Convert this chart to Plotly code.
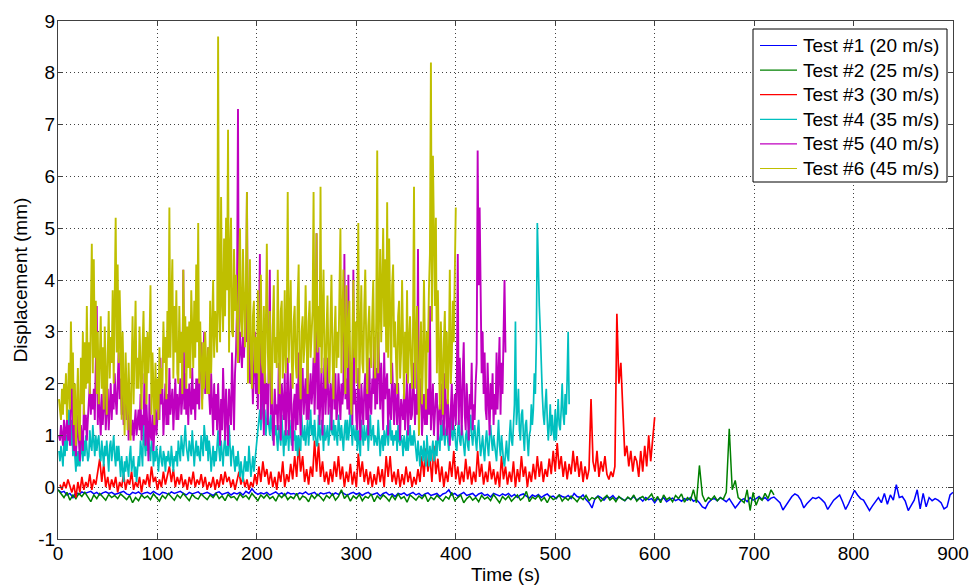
import numpy as np
import plotly.graph_objects as go

# ---------------- data ----------------
series_names = ["Test #1 (20 m/s)", "Test #2 (25 m/s)", "Test #3 (30 m/s)",
                "Test #4 (35 m/s)", "Test #5 (40 m/s)", "Test #6 (45 m/s)"]
series_colors = ["#0000ff", "#008000", "#ff0000", "#00bfbf", "#bf00bf", "#bfbf00"]

# Test #1: t = 0..900 s, every 3 s
test1_start, test1_step = 0, 3
test1 = [
    -0.05, -0.1, -0.08, -0.15, -0.12, -0.2, -0.1, -0.14, -0.09, -0.12,
    -0.1, -0.08, -0.13, -0.1, -0.15, -0.11, -0.09, -0.12, -0.1, -0.14,
    -0.12, -0.1, -0.08, -0.13, -0.15, -0.1, -0.12, -0.09, -0.14, -0.11,
    -0.1, -0.13, -0.08, -0.12, -0.15, -0.1, -0.11, -0.14, -0.09, -0.12,
    -0.1, -0.08, -0.12, -0.15, -0.1, -0.13, -0.11, -0.09, -0.14, -0.12,
    -0.1, -0.13, -0.16, -0.11, -0.09, -0.14, -0.12, -0.1, -0.15, -0.11,
    -0.13, -0.1, -0.15, -0.08, -0.12, -0.03, -0.1, -0.14, -0.11, -0.13,
    -0.1, -0.15, -0.12, -0.09, -0.14, -0.11, -0.16, -0.1, -0.13, -0.12,
    -0.15, -0.11, -0.13, -0.09, -0.14, -0.12, -0.1, -0.16, -0.11, -0.13,
    -0.12, -0.1, -0.15, -0.11, -0.14, -0.09, -0.13, -0.16, -0.12, -0.1,
    -0.14, -0.11, -0.16, -0.12, -0.1, -0.15, -0.13, -0.11, -0.17, -0.12,
    -0.1, -0.15, -0.13, -0.18, -0.12, -0.14, -0.11, -0.16, -0.13, -0.1,
    -0.15, -0.12, -0.17, -0.13, -0.11, -0.16, -0.14, -0.12, -0.18, -0.13,
    -0.11, -0.05, -0.15, -0.12, -0.17, -0.13, -0.1, -0.16, -0.14, -0.12,
    -0.18, -0.13, -0.11, -0.16, -0.14, -0.19, -0.12, -0.15, -0.17, -0.13,
    -0.16, -0.12, -0.18, -0.14, -0.2, -0.15, -0.13, -0.17, -0.21, -0.15,
    -0.18, -0.14, -0.2, -0.16, -0.13, -0.19, -0.17, -0.22, -0.15, -0.18,
    -0.2, -0.16, -0.22, -0.12, -0.18, -0.2, -0.15, -0.24, -0.3, -0.4,
    -0.22, -0.17, -0.2, -0.25, -0.18, -0.21, -0.16, -0.23, -0.19, -0.22,
    -0.26, -0.2, -0.23, -0.18, -0.25, -0.21, -0.27, -0.2, -0.24, -0.22,
    -0.3, -0.22, -0.25, -0.2, -0.28, -0.24, -0.21, -0.26, -0.23, -0.27,
    -0.22, -0.25, -0.2, -0.27, -0.24, -0.3, -0.38, -0.41, -0.3, -0.24,
    -0.22, -0.26, -0.2, -0.24, -0.28, -0.22, -0.3, -0.4, -0.33, -0.25,
    -0.22, -0.28, -0.2, -0.25, -0.22, -0.18, -0.24, -0.2, -0.26, -0.21,
    -0.19, -0.25, -0.3, -0.44, -0.35, -0.25, -0.18, -0.13, -0.16, -0.25,
    -0.4, -0.32, -0.26, -0.2, -0.22, -0.19, -0.24, -0.3, -0.43, -0.35,
    -0.25, -0.2, -0.15, -0.28, -0.43, -0.32, -0.2, -0.06, -0.15, -0.22,
    -0.25, -0.35, -0.45, -0.36, -0.28, -0.2, -0.3, -0.12, -0.33, -0.15,
    -0.25, 0.05, -0.2, -0.18, -0.27, -0.45, -0.35, -0.25, -0.05, -0.42,
    -0.12, -0.38, -0.2, -0.26, -0.22, -0.25, -0.3, -0.42, -0.38, -0.15,
    -0.1,
]

# Test #2: t = 0..720 s, every 3 s
test2_start, test2_step = 0, 3
test2 = [
    -0.05, -0.12, -0.2, -0.1, -0.25, -0.15, -0.22, -0.12, -0.18, -0.1,
    -0.2, -0.28, -0.15, -0.22, -0.12, -0.18, -0.25, -0.14, -0.2, -0.16,
    -0.22, -0.13, -0.19, -0.24, -0.16, -0.3, -0.2, -0.26, -0.15, -0.21,
    -0.17, -0.24, -0.13, -0.2, -0.27, -0.16, -0.22, -0.12, -0.19, -0.25,
    -0.15, -0.21, -0.12, -0.18, -0.26, -0.14, -0.2, -0.23, -0.13, -0.19,
    -0.24, -0.15, -0.2, -0.12, -0.22, -0.17, -0.26, -0.14, -0.2, -0.18,
    -0.25, -0.13, -0.2, -0.16, -0.23, -0.12, -0.19, -0.26, -0.15, -0.21,
    -0.14, -0.22, -0.18, -0.27, -0.15, -0.2, -0.13, -0.24, -0.18, -0.22,
    -0.12, -0.25, -0.17, -0.2, -0.28, -0.15, -0.22, -0.14, -0.19, -0.26,
    -0.16, -0.21, -0.13, -0.25, -0.18, -0.05, -0.22, -0.15, -0.27, -0.17,
    -0.22, -0.14, -0.26, -0.18, -0.21, -0.13, -0.28, -0.17, -0.23, -0.15,
    -0.2, -0.27, -0.16, -0.24, -0.13, -0.22, -0.18, -0.29, -0.15, -0.21,
    -0.25, -0.17, -0.22, -0.14, -0.28, -0.19, -0.24, -0.16, -0.21, -0.27,
    -0.18, -0.23, -0.1, -0.26, -0.2, -0.15, -0.3, -0.22, -0.17, -0.25,
    -0.2, -0.28, -0.16, -0.23, -0.19, -0.26, -0.14, -0.22, -0.3, -0.18,
    -0.24, -0.17, -0.27, -0.21, -0.15, -0.25, -0.2, -0.08, -0.28, -0.19,
    -0.23, -0.16, -0.26, -0.2, -0.3, -0.18, -0.24, -0.21, -0.15, -0.27,
    -0.2, -0.25, -0.17, -0.22, -0.28, -0.19, -0.24, -0.16, -0.26, -0.2,
    -0.23, -0.18, -0.27, -0.21, -0.16, -0.25, -0.2, -0.28, -0.18, -0.23,
    -0.26, -0.19, -0.24, -0.15, -0.27, -0.21, -0.18, -0.25, -0.2, -0.13,
    -0.27, -0.18, -0.3, -0.15, -0.24, -0.2, -0.28, -0.16, -0.22, -0.13,
    -0.29, -0.2, -0.25, -0.05, -0.3, 0.42, -0.15, -0.28, -0.2, -0.24,
    -0.17, -0.26, -0.2, -0.23, -0.1, 1.13, -0.05, 0.13, -0.2, -0.25,
    -0.3, -0.05, -0.45, -0.1, -0.35, -0.2, -0.25, -0.12, -0.22, -0.05,
    -0.15,
]

# Test #3: t = 2..600 s, every 2 s
test3_start, test3_step = 2, 2
test3 = [
    0.05, -0.05, 0.1, -0.02, 0.15, 0.0, -0.1, 0.05, -0.2, 0.1,
    -0.1, 0.2, -0.05, 0.1, 0.0, 0.25, -0.05, 0.15, 0.05, 0.3,
    0.55, 0.1, 0.45, 0.0, 0.2, -0.05, 0.15, 0.0, 0.2, -0.1,
    0.1, 0.0, 0.25, -0.05, 0.15, 0.05, 0.3, -0.05, 0.1, 0.0,
    0.2, -0.1, 0.15, 0.05, 0.25, 0.0, 0.4, 0.1, 0.2, -0.05,
    0.15, 0.0, 0.3, 0.05, 0.2, 0.4, 0.1, 0.35, 0.0, 0.2,
    0.05, 0.25, 0.0, 0.15, -0.05, 0.2, 0.05, 0.3, 0.0, 0.15,
    0.05, 0.25, 0.0, 0.2, -0.05, 0.1, 0.0, 0.2, -0.05, 0.15,
    0.0, 0.25, 0.05, 0.3, 0.1, 0.2, 0.0, 0.15, -0.05, 0.1,
    0.3, 0.05, 0.2, 0.0, 0.15, -0.05, 0.1, 0.0, 0.25, 0.05,
    0.4, 0.1, 0.5, 0.2, 0.35, 0.05, 0.3, 0.0, 0.2, -0.05,
    0.3, 0.1, 0.5, 0.0, 0.25, 0.1, 0.45, 0.15, 0.6, 0.2,
    0.85, 0.3, 0.6, 0.1, 0.35, 0.05, 0.4, 0.2, 0.9, 0.3,
    0.85, 0.2, 0.5, 0.1, 0.3, 0.05, 0.35, 0.1, 0.5, 0.2,
    0.6, 0.15, 0.4, 0.0, 0.3, 0.1, 0.45, 0.05, 0.3, 0.0,
    0.65, 0.2, 0.5, 0.1, 0.35, 0.05, 0.3, 0.0, 0.25, 0.05,
    0.4, 0.1, 0.35, 0.0, 0.6, 0.2, 0.6, 0.1, 0.3, 0.05,
    0.35, 0.0, 0.25, 0.05, 0.4, 0.1, 0.3, 0.0, 0.2, 0.05,
    0.35, 0.1, 0.6, 0.2, 0.75, 0.3, 0.6, 0.1, 0.8, 0.25,
    0.55, 0.1, 0.4, 0.0, 0.3, 0.1, 0.5, 0.2, 0.7, 0.15,
    0.4, 0.05, 0.3, 0.1, 0.55, 0.15, 0.4, 0.05, 0.3, 0.1,
    0.7, 0.2, 0.45, 0.05, 0.3, 0.1, 0.5, 0.15, 0.35, 0.05,
    0.3, 0.0, 0.6, 0.15, 0.4, 0.05, 0.3, 0.1, 0.5, 0.0,
    0.35, 0.1, 0.6, 0.2, 0.4, 0.0, 0.3, 0.1, 0.45, 0.15,
    0.6, 0.2, 0.5, 0.1, 0.35, 0.2, 0.55, 0.25, 0.7, 0.3,
    0.85, 0.35, 0.6, 0.2, 0.5, 0.15, 0.45, 0.25, 0.7, 0.3,
    0.6, 0.2, 0.5, 0.1, 0.4, 0.15, 0.35, 1.7, 0.5, 0.3,
    0.7, 0.2, 0.5, 0.3, 0.6, 0.25, 0.15, 0.3, 0.2, 0.4,
    3.35, 2.0, 2.4, 1.5, 0.6, 0.8, 0.4, 0.7, 0.3, 0.6,
    0.5, 0.2, 0.7, 0.3, 0.8, 0.4, 1.0, 0.5, 0.9, 1.35,
]

# Test #4: t = 1..514 s, every 1 s
test4_start, test4_step = 1, 1
test4 = [
    0.7, 0.5, 0.8, 0.6, 0.4, 0.9, 0.6, 1.0, 0.7, 1.2,
    1.5, 1.1, 0.8, 1.3, 0.6, 0.9, 0.5, 0.3, 0.7, 0.4,
    0.7, 0.4, 0.9, 0.6, 0.5, 0.9, 0.6, 1.0, 0.7, 0.5,
    0.6, 1.1, 0.8, 0.7, 1.2, 0.8, 0.6, 1.0, 0.7, 0.9,
    1.0, 0.6, 0.5, 0.9, 0.7, 0.4, 0.8, 0.6, 0.9, 0.5,
    0.3, 0.8, 0.9, 0.5, 0.7, 1.0, 0.6, 0.4, 0.8, 0.5,
    0.8, 0.5, 0.2, 0.6, 0.4, 0.1, 0.5, 0.3, 0.6, 0.4,
    0.2, 0.6, 0.8, 0.3, 0.5, 0.6, 0.2, 0.4, 0.1, 0.5,
    0.6, 0.4, 0.9, 0.7, 0.4, 1.2, 0.8, 0.6, 1.0, 0.7,
    1.0, 0.7, 0.5, 0.9, 0.8, 0.4, 0.7, 0.5, 0.8, 0.6,
    0.3, 0.6, 0.8, 0.5, 0.4, 0.7, 0.6, 0.3, 0.6, 0.5,
    0.7, 0.5, 0.4, 0.8, 0.6, 0.3, 0.6, 0.5, 0.7, 0.4,
    0.9, 0.6, 0.5, 1.0, 0.7, 0.6, 0.9, 1.2, 0.8, 0.6,
    0.5, 0.9, 0.7, 0.6, 1.1, 0.8, 0.4, 0.7, 0.9, 0.6,
    0.8, 0.6, 0.5, 1.0, 0.7, 0.6, 1.2, 0.8, 0.7, 1.0,
    0.5, 0.9, 0.7, 0.3, 0.6, 0.8, 0.4, 0.7, 0.5, 0.9,
    1.1, 0.7, 0.5, 0.9, 0.6, 0.4, 0.8, 1.0, 0.6, 0.8,
    0.6, 1.2, 0.8, 0.4, 0.7, 0.8, 0.5, 0.3, 0.6, 0.4,
    0.7, 0.4, 0.2, 0.5, 0.3, 0.1, 0.4, 0.6, 0.3, 0.5,
    0.3, 0.8, 0.5, 0.2, 0.4, 0.6, 0.3, 0.5, 0.7, 0.9,
    1.0, 1.3, 1.5, 1.1, 1.4, 1.8, 1.2, 1.5, 1.0, 1.3,
    1.6, 1.2, 1.0, 1.4, 1.1, 0.9, 1.3, 1.0, 1.2, 0.9,
    0.7, 1.2, 1.0, 0.8, 1.4, 0.9, 0.6, 1.1, 0.8, 1.0,
    1.1, 0.7, 1.3, 1.0, 0.8, 1.2, 0.9, 1.1, 0.7, 1.0,
    0.6, 1.0, 0.8, 0.7, 1.4, 1.0, 0.9, 1.2, 0.8, 1.1,
    1.3, 0.8, 1.1, 1.5, 1.0, 1.2, 0.9, 1.3, 1.0, 0.8,
    0.8, 1.4, 1.0, 0.9, 1.3, 1.1, 0.7, 1.2, 0.9, 1.0,
    1.2, 0.8, 1.0, 1.5, 1.1, 1.0, 1.3, 0.9, 1.2, 1.0,
    0.8, 1.4, 1.1, 0.9, 1.2, 1.0, 0.7, 1.1, 1.3, 0.9,
    1.3, 0.9, 1.1, 1.5, 1.0, 0.8, 1.2, 1.0, 0.9, 1.2,
    0.7, 1.1, 0.9, 0.6, 1.3, 1.0, 0.8, 1.2, 0.9, 1.0,
    1.2, 0.7, 1.0, 1.4, 0.9, 1.1, 1.2, 0.8, 1.0, 0.9,
    0.8, 1.3, 1.0, 0.6, 0.9, 1.0, 0.7, 1.1, 0.8, 1.0,
    1.2, 0.8, 1.0, 1.3, 0.9, 1.1, 0.8, 1.0, 0.9, 1.1,
    0.7, 1.2, 0.9, 0.8, 1.0, 0.9, 0.6, 1.0, 0.8, 0.7,
    1.1, 0.7, 0.9, 1.2, 0.8, 1.0, 0.8, 1.1, 0.9, 0.7,
    0.5, 0.9, 0.6, 0.4, 0.8, 0.7, 0.5, 0.9, 0.6, 0.4,
    1.0, 0.6, 0.4, 0.8, 0.5, 0.7, 0.9, 0.5, 0.6, 0.9,
    0.6, 1.1, 0.8, 0.7, 1.2, 0.9, 1.3, 1.0, 0.8, 1.1,
    1.2, 0.9, 0.7, 1.1, 1.4, 1.0, 0.9, 1.2, 1.1, 0.8,
    0.7, 1.1, 1.3, 0.9, 0.8, 1.2, 1.0, 0.7, 0.6, 1.0,
    1.1, 0.8, 0.7, 1.2, 1.4, 1.0, 0.8, 1.1, 1.2, 0.9,
    0.7, 1.1, 1.3, 0.9, 0.6, 0.8, 1.0, 0.7, 0.5, 0.9,
    1.1, 0.8, 0.6, 1.0, 1.2, 0.9, 0.7, 1.0, 0.8, 0.6,
    0.5, 0.9, 1.3, 0.8, 0.6, 1.0, 0.7, 0.5, 0.4, 0.8,
    0.9, 0.6, 0.5, 1.0, 1.3, 0.9, 0.8, 1.2, 1.6, 3.2,
    1.2, 1.5, 1.9, 1.1, 0.9, 1.4, 1.5, 1.0, 0.7, 1.2,
    1.3, 0.9, 0.6, 1.0, 1.1, 1.6, 1.2, 1.5, 2.2, 1.8,
    2.8, 5.1, 3.9, 3.5, 3.0, 2.2, 1.8, 1.4, 1.2, 1.6,
    1.9, 1.3, 0.9, 1.2, 1.6, 1.0, 1.4, 1.1, 0.9, 1.5,
    0.9, 1.3, 1.7, 1.2, 1.1, 1.5, 2.0, 1.4, 1.2, 1.8,
    1.4, 2.1, 3.0, 1.6,
]

# Test #5: t = 1..450 s, every 1 s
test5_start, test5_step = 1, 1
test5 = [
    1.0, 0.9, 1.2, 1.0, 0.8, 1.3, 0.9, 1.1, 1.3, 0.9,
    1.2, 0.8, 1.5, 2.4, 1.1, 0.7, 1.3, 0.6, 1.0, 1.4,
    0.9, 0.5, 1.2, 0.8, 0.7, 1.6, 1.1, 1.4, 0.9, 1.3,
    1.6, 2.0, 1.4, 1.8, 1.5, 1.9, 1.3, 2.2, 3.5, 1.2,
    2.0, 1.4, 1.0, 1.8, 1.2, 1.6, 2.0, 1.1, 1.5, 1.9,
    1.1, 1.6, 2.0, 1.3, 1.8, 1.5, 2.2, 1.7, 1.4, 2.0,
    2.6, 1.7, 2.1, 1.4, 1.9, 1.2, 1.5, 2.0, 1.3, 1.6,
    0.9, 1.4, 1.1, 1.0, 1.3, 0.9, 1.2, 1.5, 1.0, 1.3,
    1.5, 1.1, 1.8, 0.9, 1.4, 1.2, 2.2, 0.8, 1.6, 1.1,
    0.5, 1.8, 1.0, 0.9, 1.4, 0.7, 1.2, 1.6, 1.0, 1.3,
    1.7, 1.3, 2.5, 1.6, 1.9, 1.0, 1.5, 2.0, 1.2, 1.8,
    1.2, 2.3, 1.4, 1.7, 1.9, 1.1, 1.6, 2.1, 1.3, 1.8,
    1.3, 1.8, 2.1, 1.4, 1.7, 4.2, 1.5, 2.2, 1.4, 1.9,
    1.2, 2.0, 1.6, 1.4, 2.3, 1.5, 1.9, 1.3, 2.1, 1.6,
    2.1, 1.5, 2.6, 2.8, 1.7, 2.2, 3.0, 1.8, 2.5, 2.0,
    2.7, 1.8, 1.4, 2.2, 1.6, 1.0, 2.0, 1.3, 1.8, 1.1,
    2.0, 1.4, 0.8, 1.7, 1.1, 2.3, 1.5, 0.9, 1.9, 1.2,
    0.8, 1.9, 1.4, 1.2, 2.6, 1.7, 1.1, 2.2, 2.6, 3.5,
    7.3, 2.4, 3.0, 2.6, 2.3, 2.9, 2.5, 3.1, 2.8, 5.7,
    2.6, 3.2, 2.0, 2.8, 2.4, 1.6, 2.5, 3.0, 1.8, 2.2,
    1.5, 2.7, 4.5, 1.3, 3.0, 1.8, 1.0, 2.4, 1.6, 2.0,
    1.2, 2.5, 4.2, 1.4, 2.2, 1.1, 0.8, 1.9, 1.4, 1.6,
    1.1, 2.4, 1.5, 0.9, 2.0, 1.7, 1.3, 2.2, 1.0, 1.6,
    2.5, 1.0, 1.8, 2.2, 1.3, 0.7, 1.6, 1.8, 1.1, 2.0,
    1.2, 2.6, 1.6, 1.0, 1.9, 2.3, 1.4, 1.7, 2.1, 1.3,
    2.8, 1.3, 2.0, 2.2, 1.6, 1.9, 2.5, 1.4, 2.1, 4.9,
    1.5, 2.7, 1.2, 1.9, 2.3, 1.0, 1.6, 2.5, 1.4, 2.0,
    2.5, 1.4, 1.8, 2.0, 1.1, 1.7, 2.6, 1.5, 2.2, 1.3,
    1.5, 2.2, 1.7, 1.3, 2.0, 1.6, 1.9, 4.5, 1.7, 2.1,
    1.5, 4.1, 1.4, 2.0, 2.4, 1.2, 4.2, 1.6, 1.9, 1.3,
    1.1, 2.3, 1.5, 0.9, 2.0, 1.6, 1.2, 1.9, 2.2, 1.3,
    1.9, 1.0, 2.5, 1.6, 1.4, 2.1, 1.8, 2.9, 1.5, 2.3,
    1.6, 3.0, 2.2, 1.5, 2.4, 1.8, 1.1, 2.6, 1.7, 2.0,
    2.2, 1.0, 1.9, 1.5, 1.3, 2.4, 1.7, 1.2, 2.0, 1.6,
    1.2, 2.0, 1.5, 0.9, 1.7, 1.4, 1.3, 1.9, 1.1, 1.6,
    2.2, 1.0, 1.6, 2.0, 1.3, 1.4, 2.4, 1.5, 1.2, 1.8,
    1.4, 4.6, 1.3, 1.9, 2.1, 1.0, 1.5, 1.8, 1.2, 1.7,
    1.2, 1.9, 1.4, 3.5, 1.1, 1.6, 2.0, 1.0, 1.5, 1.8,
    1.8, 0.9, 1.4, 1.6, 1.2, 2.0, 1.5, 1.0, 2.2, 1.4,
    1.0, 1.7, 1.3, 0.8, 1.5, 2.0, 1.1, 1.4, 1.8, 1.2,
    1.9, 4.5, 1.2, 2.5, 1.6, 1.0, 2.2, 2.8, 1.4, 1.1,
    2.0, 1.3, 0.9, 1.8, 1.5, 2.4, 1.1, 1.6, 1.3, 2.0,
    2.4, 6.5, 3.9, 5.4, 4.2, 2.2, 3.0, 1.8, 2.6, 1.5,
    1.3, 2.4, 1.7, 1.0, 2.0, 1.5, 2.2, 1.2, 1.8, 1.4,
    2.6, 1.5, 2.2, 2.9, 1.4, 2.4, 1.8, 2.9, 4.0, 2.6,
]

# Test #6: t = 1..400 s, every 1 s
test6_start, test6_step = 1, 1
test6 = [
    1.7, 1.5, 1.3, 1.9, 1.4, 2.0, 1.6, 2.2, 1.3, 1.8,
    2.4, 1.5, 3.2, 1.9, 2.6, 1.2, 2.0, 0.8, 1.7, 2.3,
    1.1, 0.9, 2.5, 1.6, 3.0, 1.4, 2.8, 1.9, 3.5, 2.0,
    2.8, 1.8, 3.3, 4.7, 2.2, 4.4, 2.5, 3.6, 1.8, 3.0,
    1.6, 2.9, 3.3, 1.9, 2.7, 1.5, 3.1, 2.2, 1.4, 2.6,
    3.4, 2.1, 2.9, 2.4, 3.8, 2.0, 3.2, 5.2, 2.6, 4.3,
    2.4, 3.8, 2.9, 1.3, 3.0, 2.1, 1.0, 2.6, 1.7, 1.1,
    2.4, 1.5, 0.9, 2.2, 3.3, 1.6, 2.8, 3.6, 1.9, 2.5,
    1.9, 3.1, 2.3, 1.5, 2.7, 3.4, 2.0, 2.9, 1.6, 3.0,
    2.2, 2.8, 3.9, 1.4, 2.6, 1.8, 1.2, 2.4, 1.5, 2.1,
    1.3, 2.7, 1.8, 2.3, 1.9, 3.2, 2.4, 2.9, 1.7, 3.4,
    2.5, 5.4, 2.5, 3.6, 4.4, 2.1, 3.5, 2.6, 3.8, 2.2,
    2.0, 3.5, 2.4, 3.0, 1.8, 4.2, 2.6, 3.3, 1.9, 3.1,
    2.3, 3.2, 2.1, 3.8, 2.7, 2.3, 3.6, 2.5, 4.3, 2.8,
    5.1, 2.0, 3.2, 2.4, 1.5, 2.8, 1.9, 3.0, 2.2, 1.8,
    2.7, 1.8, 3.6, 2.2, 3.1, 4.0, 2.5, 3.4, 3.1, 2.6,
    8.7, 3.4, 2.8, 5.6, 3.6, 3.0, 4.8, 3.3, 5.2, 3.8,
    6.9, 2.6, 4.5, 5.2, 3.0, 2.9, 4.6, 3.4, 4.1, 2.8,
    2.4, 4.2, 5.0, 3.2, 2.9, 4.6, 3.5, 2.7, 4.0, 5.7,
    2.0, 3.6, 4.4, 2.5, 1.9, 3.3, 3.6, 2.2, 2.9, 2.2,
    3.8, 1.8, 2.9, 4.1, 2.4, 2.2, 3.5, 2.0, 3.1, 4.7,
    2.6, 2.0, 3.4, 2.2, 1.6, 3.1, 3.9, 2.4, 2.9, 2.3,
    4.2, 2.7, 1.8, 3.4, 3.6, 2.1, 2.6, 3.8, 2.2, 3.0,
    5.7, 2.4, 3.3, 4.0, 2.5, 1.9, 3.2, 3.5, 2.4, 2.1,
    3.6, 4.3, 2.2, 1.7, 3.0, 3.3, 2.4, 2.8, 3.9, 2.3,
    1.8, 3.2, 3.6, 2.5, 2.9, 3.4, 5.7, 2.4, 3.1, 4.9,
    2.6, 3.5, 2.7, 5.8, 2.2, 3.3, 4.2, 2.5, 1.9, 3.0,
    3.7, 2.4, 2.0, 3.2, 4.1, 2.6, 1.7, 2.9, 3.5, 2.3,
    3.0, 2.5, 3.8, 5.0, 2.2, 3.6, 4.2, 2.6, 1.8, 3.9,
    2.3, 3.1, 3.6, 2.0, 1.4, 2.8, 4.0, 2.5, 3.2, 2.0,
    3.4, 5.1, 1.9, 3.0, 3.9, 2.4, 2.2, 3.5, 4.2, 2.7,
    1.8, 3.1, 3.5, 2.6, 2.3, 3.3, 4.0, 2.5, 2.1, 3.2,
    6.5, 2.2, 3.4, 4.6, 2.8, 4.2, 5.0, 3.1, 4.4, 2.6,
    5.5, 2.5, 4.8, 3.4, 2.0, 3.9, 4.3, 2.7, 3.2, 2.4,
    1.8, 3.3, 3.6, 2.1, 2.6, 4.0, 2.5, 1.7, 3.0, 2.2,
    3.8, 2.0, 2.8, 3.3, 2.4, 1.9, 3.1, 5.8, 1.9, 2.6,
    3.5, 2.2, 1.0, 2.7, 3.2, 1.6, 2.4, 4.0, 2.1, 1.5,
    3.0, 2.6, 3.8, 4.5, 8.2, 3.2, 6.4, 4.8, 3.5, 5.2,
    2.2, 3.8, 2.6, 1.5, 3.2, 2.3, 1.4, 2.8, 3.4, 1.9,
    3.0, 1.6, 2.5, 4.2, 2.0, 2.5, 3.6, 2.8, 4.0, 5.4,
]

x_ticks = [0, 100, 200, 300, 400, 500, 600, 700, 800, 900]
y_ticks = [-1, 0, 1, 2, 3, 4, 5, 6, 7, 8, 9]
y_tick_labels = ["-1", "0", "1", "2", "3", "4", "5", "6", "7", "8", "9"]
x_title = "Time (s)"
y_title = "Displacement (mm)"

series = [(test1, test1_start, test1_step), (test2, test2_start, test2_step),
          (test3, test3_start, test3_step), (test4, test4_start, test4_step),
          (test5, test5_start, test5_step), (test6, test6_start, test6_step)]
series_widths = [1.5, 1.5, 1.7, 1.7, 1.9, 1.9]

# ---------------- layout constants (pixels) ----------------
W, H = 971, 586
ML, MR, MT, MB = 58, 18, 21, 47
PW, PH = W - ML - MR, H - MT - MB


def px_x(px):
    return (px - ML) / PW


def px_y(py):
    return 1 - (py - MT) / PH


FONT = "Liberation Sans, Arial, sans-serif"
fig = go.Figure()
for (vals, start, step), name, col, lw in zip(series, series_names, series_colors, series_widths):
    t = start + step * np.arange(len(vals))
    fig.add_trace(go.Scatter(x=t, y=vals, mode="lines", name=name,
                             line=dict(color=col, width=lw), showlegend=False))

axis_common = dict(
    showline=True, linecolor="#404040", linewidth=1, mirror="ticks",
    ticks="inside", ticklen=5, tickcolor="#404040", tickwidth=1,
    showgrid=True, gridcolor="#404040", griddash="1px,3px", gridwidth=1,
    zeroline=False, tickfont=dict(family=FONT, size=19, color="black"),
    automargin=False,
)

# legend box drawn in MATLAB style (box, line samples, labels)
shapes = [dict(type="rect", xref="paper", yref="paper",
               x0=px_x(753), x1=px_x(947), y0=px_y(182), y1=px_y(29),
               line=dict(color="black", width=1), fillcolor="white", layer="above")]
annotations = []
for i, (name, col) in enumerate(zip(series_names, series_colors)):
    yc = 45.5 + 24.6 * i
    shapes.append(dict(type="line", xref="paper", yref="paper",
                       x0=px_x(760), x1=px_x(797), y0=px_y(yc), y1=px_y(yc),
                       line=dict(color=col, width=1.2), layer="above"))
    annotations.append(dict(xref="paper", yref="paper", x=px_x(801), y=px_y(yc),
                            xanchor="left", yanchor="middle", showarrow=False,
                            text=name, font=dict(family=FONT, size=19, color="black")))

fig.update_layout(
    width=W, height=H,
    margin=dict(l=ML, r=MR, t=MT, b=MB),
    paper_bgcolor="white", plot_bgcolor="white",
    font=dict(family=FONT, size=19, color="black"),
    xaxis=dict(range=[0, 900], tickmode="array", tickvals=x_ticks,
               ticklabelstandoff=-3,
               title=dict(text=x_title, font=dict(family=FONT, size=19), standoff=0),
               **axis_common),
    yaxis=dict(range=[-1, 9], tickmode="array", tickvals=y_ticks,
               ticktext=y_tick_labels, ticklabelstandoff=-2,
               title=dict(text=y_title, font=dict(family=FONT, size=19), standoff=5),
               **axis_common),
    shapes=shapes,
    annotations=annotations,
    showlegend=False,
)
fig.write_html("out.html")
